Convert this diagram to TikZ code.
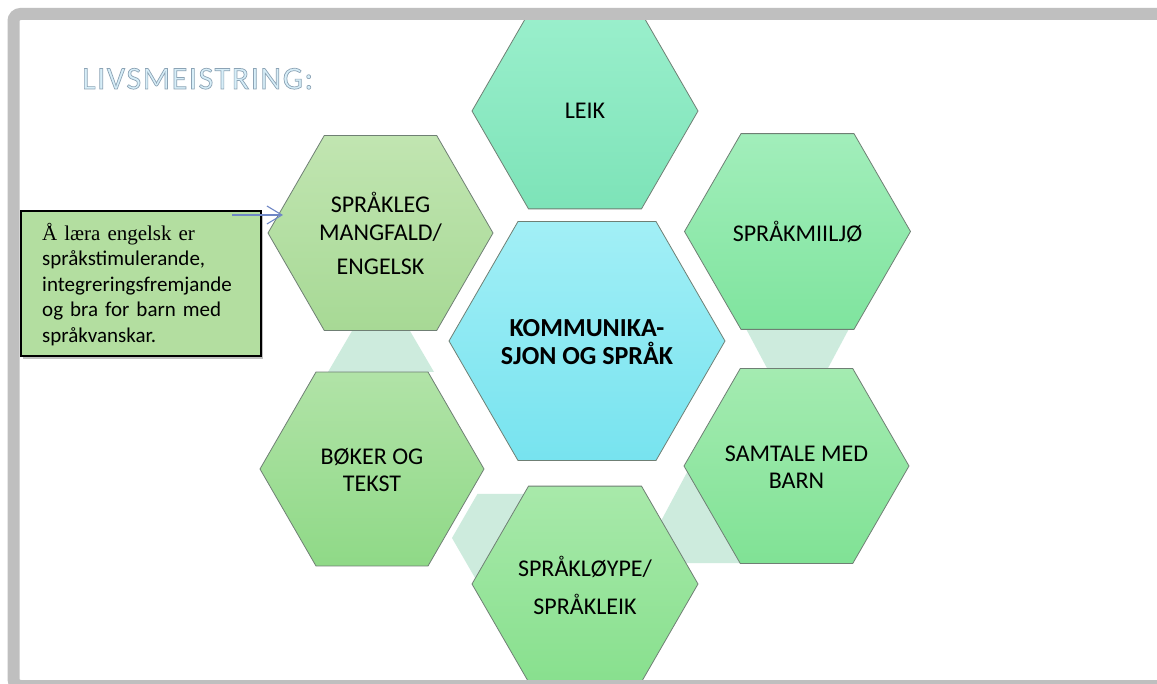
\documentclass[tikz,border=0pt]{standalone}
\usepackage{fontspec}
\setmainfont{Carlito}
\newfontfamily\serifnote{Liberation Serif}
\usetikzlibrary{arrows.meta,shadows}
\definecolor{framegray}{HTML}{BFBFBF}
\definecolor{bandcol}{HTML}{CDEBDD}
\definecolor{hexline}{HTML}{6F7F74}
\definecolor{titleblue}{HTML}{D7EEF8}
\definecolor{notefill}{HTML}{B3DEA0}
\definecolor{arrowblue}{HTML}{6F87C6}
\definecolor{leikT}{HTML}{9AEFCC}\definecolor{leikB}{HTML}{7DE3B8}
\definecolor{miljoT}{HTML}{A2EEBB}\definecolor{miljoB}{HTML}{7FE49E}
\definecolor{samtT}{HTML}{A4EBB1}\definecolor{samtB}{HTML}{80E295}
\definecolor{loypeT}{HTML}{A8E9AA}\definecolor{loypeB}{HTML}{88E08E}
\definecolor{bokT}{HTML}{B1E3A7}\definecolor{bokB}{HTML}{8FD987}
\definecolor{mangT}{HTML}{C1E5B1}\definecolor{mangB}{HTML}{A7D995}
\definecolor{cenT}{HTML}{A2EFF6}\definecolor{cenB}{HTML}{77E3EF}
\newcommand\hexagonat[4]{%
  \path[#4] ({#1+#3},#2) -- ({#1+#3/2},{#2-0.866*#3}) -- ({#1-#3/2},{#2-0.866*#3})
    -- ({#1-#3},#2) -- ({#1-#3/2},{#2+0.866*#3}) -- ({#1+#3/2},{#2+0.866*#3}) -- cycle;}
\begin{document}
\begin{tikzpicture}[x=1pt,y=-1pt,
  hexshape/.style 2 args={draw=hexline,line width=0.8pt,top color=#1,bottom color=#2},
  band/.style={fill=bandcol,draw=none},
  hexlabel/.style={align=center,inner sep=0pt,font=\fontsize{24}{27}\selectfont},
  notebox/.style={draw=black,line width=1.4pt,fill=notefill,minimum width=240pt,minimum height=145pt,inner sep=0pt,
     drop shadow={shadow xshift=2pt,shadow yshift=-3pt,opacity=0.35,fill=black!70}},
  notetext/.style={align=left,inner sep=0pt,anchor=north west,text width=215pt,font=\fontsize{21}{25.5}\selectfont},
  pointer/.style={draw=arrowblue,line width=1.1pt,-{Straight Barb[length=15pt,width=18pt]}}]
\useasboundingbox (0,0) rectangle (1157,684);
\fill[white] (0,0) rectangle (1157,684);
\clip (0,0) rectangle (1157,684);
% connecting bands
\path[band] (352,331) -- (410,331) -- (434,372) -- (328,372) -- cycle;
\path[band] (744,325) -- (851,325) -- (827,370) -- (768,370) -- cycle;
\hexagonat{503}{538}{51}{band}
\path[band] (700,448) -- (661,521) -- (670,545) -- (684,563) -- (745,563) -- (745,448) -- cycle;
% hexagons
\hexagonat{585}{111}{113}{hexshape={leikT}{leikB}}
\hexagonat{797.5}{231.5}{113}{hexshape={miljoT}{miljoB}}
\hexagonat{796.5}{466}{112.5}{hexshape={samtT}{samtB}}
\hexagonat{585}{584}{113}{hexshape={loypeT}{loypeB}}
\hexagonat{372}{469}{112}{hexshape={bokT}{bokB}}
\hexagonat{380.5}{233}{112.5}{hexshape={mangT}{mangB}}
\hexagonat{587}{341}{138}{hexshape={cenT}{cenB}}
% labels
\node[hexlabel] (leik) at (585,111) {LEIK};
\node[hexlabel] (miljo) at (797.5,231.5) {SPRÅKMIILJØ};
\node[hexlabel] (samtale) at (796.5,467) {SAMTALE MED\\BARN};
\node[hexlabel] (loype) at (585,585) {SPRÅKLØYPE/\\[11pt]SPRÅKLEIK};
\node[hexlabel] (boker) at (372,470) {BØKER OG\\TEKST};
\node[hexlabel,font=\fontsize{24}{28}\selectfont] (mangfald) at (380.5,233) {SPRÅKLEG\\MANGFALD/\\[6pt]ENGELSK};
\node[hexlabel,font=\fontsize{26}{28}\selectfont\bfseries] (centre) at (587,342) {KOMMUNIKA-\\SJON OG SPRÅK};
% title
\node[anchor=base west,inner sep=0pt] (title) at (82,89)
  {\fontsize{32}{36}\selectfont\addfontfeature{LetterSpace=5}\color{titleblue}\special{pdf:literal direct 0.55 0.64 0.71 RG 0.7 w 2 Tr}LIVSMEISTRING:\special{pdf:literal direct 0 Tr}};
% note box
\node[notebox] (note) at (141,283.5) {};
\node[notetext] (notetxt) at (42,223) {{\serifnote Å læra engelsk er}\\språkstimulerande,\\integreringsfremjande\\og bra for barn med\\språkvanskar.};
\coordinate (arrstart) at (232,215);
\coordinate (arrtip) at (283,215);
\draw[pointer] (arrstart) -- (arrtip);
% frame
\draw[framegray,line width=12pt,rounded corners=7pt] (13.5,14) rectangle (1180,686);
\end{tikzpicture}
\end{document}
